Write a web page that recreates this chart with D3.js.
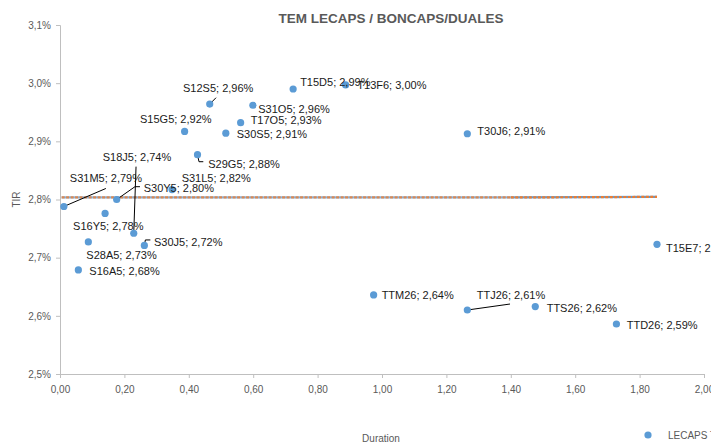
<!DOCTYPE html>
<html>
<head>
<meta charset="utf-8">
<script src="https://cdn.jsdelivr.net/npm/d3@7"></script>
<style>
  html, body { margin: 0; padding: 0; background: #fff; }
  svg { display: block; font-family: "Liberation Sans", Arial, sans-serif; }
</style>
</head>
<body>
<svg id="chart" width="711" height="444"></svg>
<script>
// ---- data ----
const names = ["S31M5","S16Y5","S30Y5","S18J5","S28A5","S30J5","S16A5","S31L5","S29G5","S15G5","S12S5",
               "S31O5","T17O5","S30S5","T15D5","T13F6","T30J6","T15E7","TTM26","TTJ26","TTS26","TTD26"];
const duration = [0.012,0.140,0.176,0.229,0.088,0.262,0.057,0.348,0.427,0.387,0.465,
                  0.599,0.561,0.515,0.724,0.887,1.265,1.854,0.974,1.265,1.476,1.728];
const tir = [2.788,2.776,2.800,2.742,2.727,2.721,2.679,2.817,2.877,2.917,2.964,
             2.962,2.932,2.914,2.990,2.997,2.913,2.723,2.636,2.610,2.616,2.586];
const xTicks = [0,0.2,0.4,0.6,0.8,1.0,1.2,1.4,1.6,1.8,2.0];
const xTickLabels = ["0,00","0,20","0,40","0,60","0,80","1,00","1,20","1,40","1,60","1,80","2,00"];
const yTicks = [2.5,2.6,2.7,2.8,2.9,3.0,3.1];
const yTickLabels = ["2,5%","2,6%","2,7%","2,8%","2,9%","3,0%","3,1%"];
const trendX = [0.005, 1.40, 1.854];
const trendY = [2.8035, 2.8035, 2.8045];
const title = "TEM LECAPS / BONCAPS/DUALES";
const seriesName = "LECAPS TIR";

// ---- label layout (pixel offsets from marker: text left, text middle; optional leader path) ----
const labelLayout = {
  S31M5: {dx: 6, dy: -28.5, leader: [[0,0],[42,-18]]},
  S16Y5: {dx: -32, dy: 13},
  S30Y5: {dx: 27, dy: -11.5, leader: [[0,0],[18.3,-12.8],[23.3,-12.8]]},
  S18J5: {dx: -31, dy: -76, leader: [[0,0],[2.3,-66.6]]},
  S28A5: {dx: -2, dy: 13},
  S30J5: {dx: 9.6, dy: -3.8, leader: [[0,0],[1,-5.5],[6,-5.5]]},
  S16A5: {dx: 11, dy: 1},
  S31L5: {dx: 9.6, dy: -11.3},
  S29G5: {dx: 10.8, dy: 9.3, leader: [[0,0],[1.5,7],[5.8,7]]},
  S15G5: {dx: -44.6, dy: -12.8},
  S12S5: {dx: -26.7, dy: -15.8, leader: [[0,0],[6.3,-6.4]]},
  S31O5: {dx: 5.4, dy: 4},
  T17O5: {dx: 10, dy: -2.7},
  S30S5: {dx: 10.9, dy: 0.8},
  T15D5: {dx: 7, dy: -7},
  T13F6: {dx: 11.7, dy: 0.4},
  T30J6: {dx: 10, dy: -2.8},
  T15E7: {dx: 9, dy: 4},
  TTM26: {dx: 8, dy: 0.6},
  TTJ26: {dx: 9.4, dy: -15, leader: [[0,0],[42.7,-6]]},
  TTS26: {dx: 11.4, dy: 1.2},
  TTD26: {dx: 10.3, dy: 1.3}
};

const points = names.map((n, i) => ({name: n, x: duration[i], y: tir[i]}));

const svg = d3.select("#chart");
const plotLeft = 60, plotRight = 704, plotTop = 25, plotBottom = 374;
const x = d3.scaleLinear().domain([0, 2]).range([plotLeft, plotRight]);
const y = d3.scaleLinear().domain([2.5, 3.1]).range([plotBottom, plotTop]);
const axisColor = "#BFBFBF", textColor = "#595959";

// title
svg.append("text").attr("x", 391).attr("y", 23).attr("text-anchor", "middle")
  .attr("font-size", "13.5px").attr("font-weight", "bold").attr("fill", textColor).text(title);

// y axis
const yAxis = svg.append("g").attr("transform", `translate(${plotLeft},0)`)
  .call(d3.axisLeft(y).tickValues(yTicks).tickFormat((d, i) => yTickLabels[i]).tickSize(4).tickPadding(5));
yAxis.select(".domain").attr("stroke", axisColor);
yAxis.selectAll(".tick line").attr("stroke", axisColor);
yAxis.selectAll("text").attr("fill", textColor).attr("font-size", "10px").attr("font-family", "Liberation Sans, Arial, sans-serif");

// x axis
const xAxis = svg.append("g").attr("transform", `translate(0,${plotBottom})`)
  .call(d3.axisBottom(x).tickValues(xTicks).tickFormat((d, i) => xTickLabels[i]).tickSize(4).tickPadding(8));
xAxis.select(".domain").attr("stroke", axisColor);
xAxis.selectAll(".tick line").attr("stroke", axisColor);
xAxis.selectAll("text").attr("fill", textColor).attr("font-size", "10px").attr("font-family", "Liberation Sans, Arial, sans-serif");

// axis titles
svg.append("text").attr("transform", `translate(20,${(plotTop + plotBottom) / 2}) rotate(-90)`)
  .attr("text-anchor", "middle").attr("font-size", "10px").attr("fill", textColor).text("TIR");
svg.append("text").attr("x", 381).attr("y", 442).attr("text-anchor", "middle")
  .attr("font-size", "10px").attr("fill", textColor).text("Duration");

// trendline
const tl = d3.line().x(d => x(d[0])).y(d => y(d[1]));
const seg1 = [[trendX[0], trendY[0]], [trendX[1], trendY[1]]];
const seg2 = [[trendX[1], trendY[1]], [trendX[2], trendY[2]]];
svg.append("path").attr("d", tl(seg1)).attr("stroke", "#5B9BD5").attr("stroke-opacity", 0.75).attr("stroke-width", 2.2).attr("fill", "none");
svg.append("path").attr("d", tl(seg1)).attr("stroke", "#ED7D31").attr("stroke-opacity", 0.8).attr("stroke-width", 2.2).attr("fill", "none").attr("stroke-dasharray", "3,1.5");
svg.append("path").attr("d", tl(seg2)).attr("stroke", "#5B9BD5").attr("stroke-width", 2.2).attr("fill", "none");
svg.append("path").attr("d", tl(seg2)).attr("stroke", "#ED7D31").attr("stroke-width", 2.2).attr("fill", "none").attr("stroke-dasharray", "3,1.5");

// leader lines
const ll = d3.line();
points.forEach(p => {
  const L = labelLayout[p.name];
  if (L && L.leader) {
    svg.append("path").attr("d", ll(L.leader.map(q => [x(p.x) + q[0], y(p.y) + q[1]])))
      .attr("stroke", "#000").attr("stroke-width", 1).attr("fill", "none");
  }
});

// markers
svg.append("g").selectAll("circle").data(points).join("circle")
  .attr("cx", d => x(d.x)).attr("cy", d => y(d.y)).attr("r", 3.6).attr("fill", "#5B9BD5");

// data labels
const fmt = v => v.toFixed(2).replace(".", ",") + "%";
svg.append("g").selectAll("text").data(points).join("text")
  .attr("x", d => x(d.x) + labelLayout[d.name].dx)
  .attr("y", d => y(d.y) + labelLayout[d.name].dy)
  .attr("dominant-baseline", "central")
  .attr("font-size", "11px").attr("fill", "#1a1a1a")
  .text(d => `${d.name}; ${fmt(d.y)}`);

// legend
svg.append("circle").attr("cx", 648).attr("cy", 435).attr("r", 3.6).attr("fill", "#5B9BD5");
svg.append("text").attr("x", 668).attr("y", 435).attr("dominant-baseline", "central")
  .attr("font-size", "10px").attr("fill", textColor).text(seriesName);
</script>
</body>
</html>
